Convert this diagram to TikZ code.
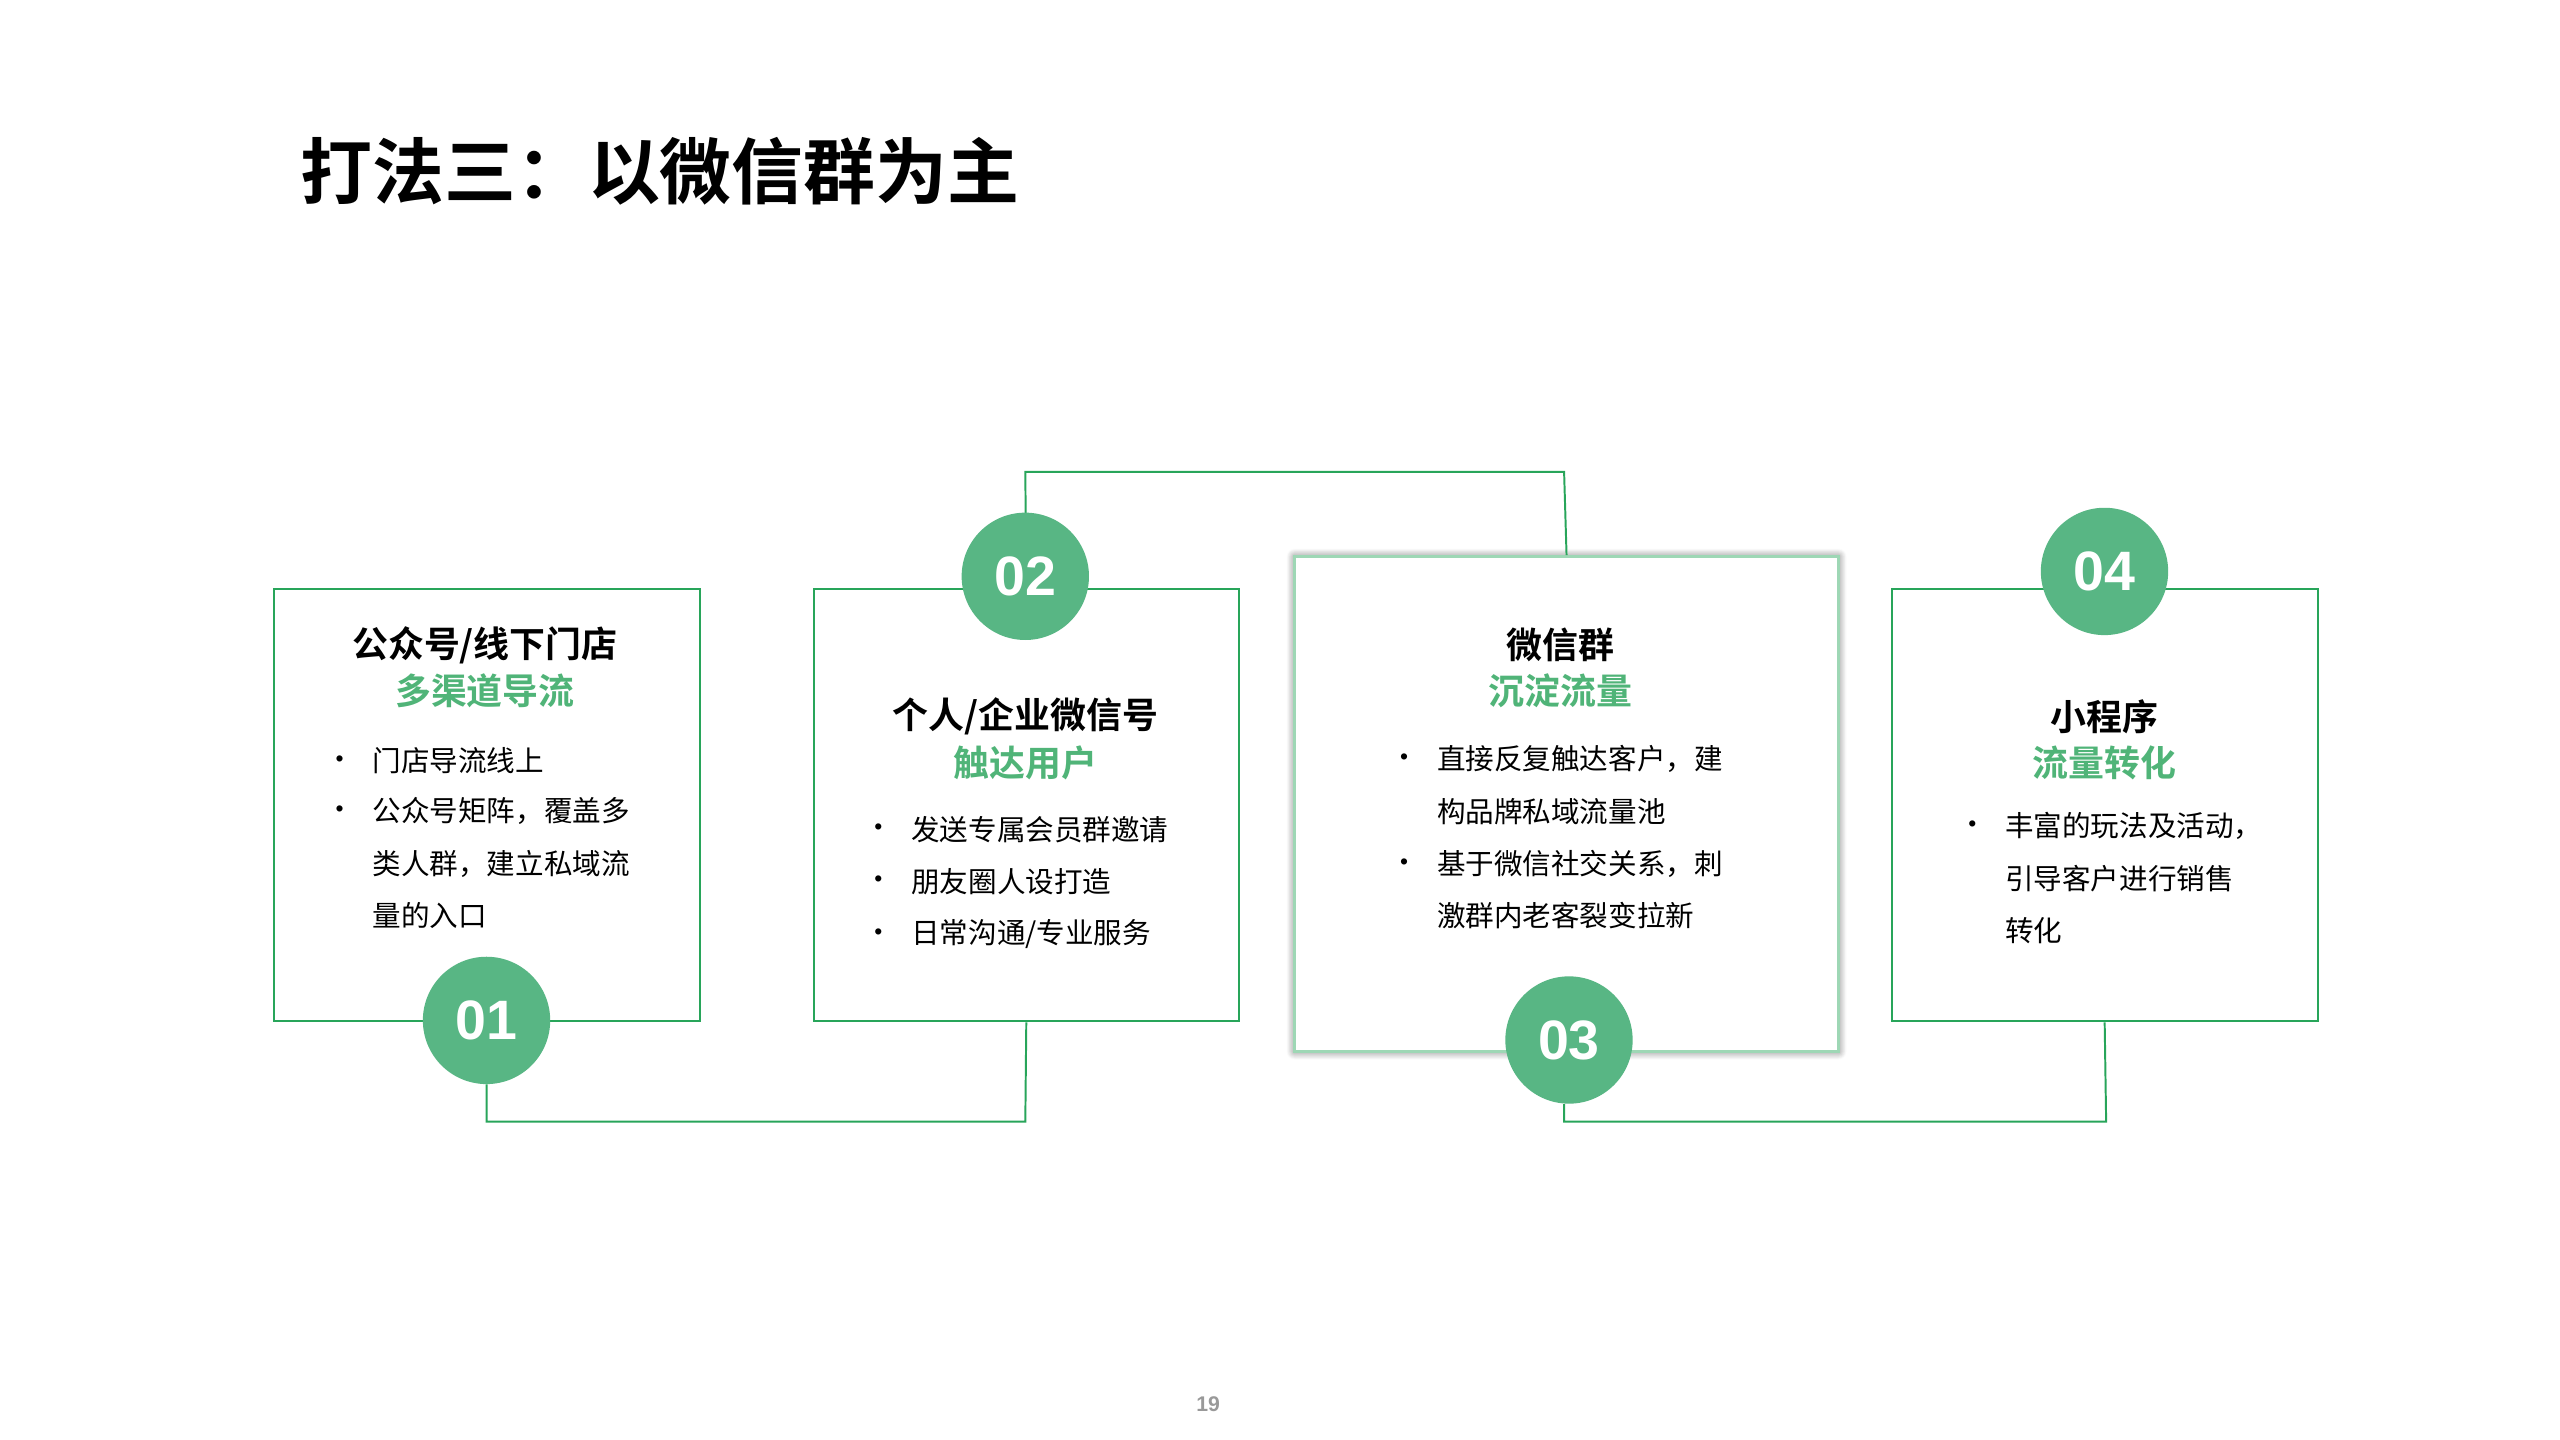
\documentclass[tikz,border=0pt]{standalone}
\usepackage{fontspec}
\setmainfont{Liberation Sans}
\newfontfamily\cjk{Noto Sans CJK SC}
\newfontfamily\cjkb{Noto Sans CJK SC Bold}
\usetikzlibrary{shadows.blur}
\definecolor{gline}{RGB}{40,165,90}
\definecolor{gfill}{RGB}{88,182,132}
\definecolor{gtext}{RGB}{80,180,120}
\tikzset{
 card/.style={draw=gline,line width=1.2pt,fill=white},
 num/.style={circle,fill=gfill,minimum size=78pt,inner sep=0,text=white,font=\bfseries\fontsize{34}{34}\selectfont},
 conn/.style={draw=gline,line width=1.2pt},
 hd/.style={font=\cjkb\fontsize{22}{24}\selectfont,anchor=center},
 sub/.style={font=\cjkb\fontsize{22}{24}\selectfont,text=gtext,anchor=center},
 bt/.style={font=\cjk\fontsize{17.5}{20}\selectfont,anchor=west,inner sep=0},
 dot/.style={font=\fontsize{14}{14}\selectfont,anchor=center,inner sep=0}
}
\newcommand{\bul}[3]{\node[dot] at (#1,#3) {•}; \node[bt] at (#1+20,#3) {#2};}
\begin{document}
\begin{tikzpicture}[x=1pt,y=-1pt]
\useasboundingbox (0,0) rectangle (1568,882);
\node[font=\cjkb\fontsize{44}{46}\selectfont,anchor=west,inner sep=0] (title) at (184,105) {打法三：以微信群为主};
% connectors
\coordinate (t1) at (628,289); \coordinate (t2) at (958,289);
\coordinate (b1) at (298,687); \coordinate (b2) at (628,687);
\coordinate (b3) at (958,687); \coordinate (b4) at (1290,687);
% boxes
\node[card,minimum width=261pt,minimum height=265pt,anchor=north west] (c1) at (167,360) {};
\node[card,minimum width=260pt,minimum height=265pt,anchor=north west] (c2) at (498,360) {};
\node[card,minimum width=261pt,minimum height=265pt,anchor=north west] (c4) at (1158,360) {};
\node[draw=gline!45,line width=2pt,fill=white,blur shadow={shadow xshift=0pt,shadow yshift=0pt,shadow blur radius=5pt,shadow opacity=60,shadow blur steps=10},minimum width=333pt,minimum height=303pt,anchor=north west] (c3) at (792,340) {};
\draw[conn] (c2.north) -- (t1) -- (t2) -- (c3.north);
\node[num] (n1) at (298,625) {01};
\node[num] (n2) at (628,353) {02};
\node[num] (n3) at (961,637) {03};
\node[num] (n4) at (1289,350) {04};
\draw[conn] (n1.south) -- (b1) -- (b2) -- (c2.south);
\draw[conn] (n3.south -| b3) -- (b3) -- (b4) -- (c4.south);
% texts
\node[hd] at (297,395) {公众号/线下门店};
\node[sub] at (297,423) {多渠道导流};
\bul{208}{门店导流线上}{466}
\bul{208}{公众号矩阵，覆盖多}{497}
\node[bt] at (228,529) {类人群，建立私域流};
\node[bt] at (228,561) {量的入口};
\node[hd] at (628,439) {个人/企业微信号};
\node[sub] at (628,467) {触达用户};
\bul{538}{发送专属会员群邀请}{508}
\bul{538}{朋友圈人设打造}{540}
\bul{538}{日常沟通/专业服务}{572}
\node[hd] at (956,395) {微信群};
\node[sub] at (956,423) {沉淀流量};
\bul{860}{直接反复触达客户，建}{465}
\node[bt] at (880,497) {构品牌私域流量池};
\bul{860}{基于微信社交关系，刺}{529}
\node[bt] at (880,561) {激群内老客裂变拉新};
\node[hd] at (1289,439) {小程序};
\node[sub] at (1289,467) {流量转化};
\bul{1208}{丰富的玩法及活动，}{506}
\node[bt] at (1228,538) {引导客户进行销售};
\node[bt] at (1228,570) {转化};
\node[font=\bfseries\fontsize{13}{13}\selectfont,text=black!40] (pg) at (740,860) {19};
\end{tikzpicture}
\end{document}
